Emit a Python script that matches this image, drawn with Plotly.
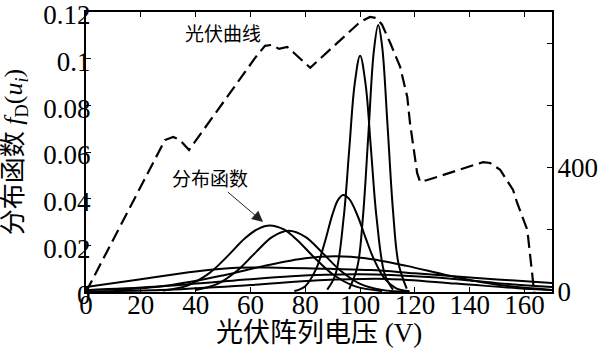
import plotly.graph_objects as go

# ---- PV array power curve (right axis, W) ----
pv_volt = [0, 28.8, 31.8, 34.3, 37.6, 53.3, 61.7, 65.3, 67.9, 70.4, 73.4, 75.5, 81.8,
           100.0, 103.6, 105.8, 108.0, 111.0, 114.6, 117.2, 118.2, 120.8, 121.9,
           124.5, 144.9, 147.4, 151.1, 155.8, 157.3, 161.0, 163.1, 163.5]
pv_power = [0, 490, 500, 490, 458, 652, 755, 794, 797, 784, 790, 774, 723,
            871, 887, 884, 862, 803, 726, 629, 545, 384, 355,
            361, 419, 416, 394, 329, 287, 200, 39, 0]

# ---- distribution functions f_D(u_i) (left axis) ----
dist_a_v = [96, 99, 101, 103, 105, 106.6, 108, 110, 112, 114, 117]
dist_a_f = [0.0012, 0.0108, 0.0318, 0.0674, 0.1031, 0.1144, 0.1056, 0.0714, 0.0348, 0.0122, 0.0014]

dist_b_v = [88, 91, 94, 96, 98, 100, 102, 104, 106, 109, 112]
dist_b_f = [0.0010, 0.0075, 0.0319, 0.0606, 0.0890, 0.1012, 0.0890, 0.0606, 0.0319, 0.0075, 0.0010]

dist_c_v = [76, 80, 84, 87, 90, 92, 93.8, 96, 99, 102, 105, 109, 113, 118]
dist_c_f = [0.0004, 0.0025, 0.0100, 0.0209, 0.0336, 0.0396, 0.0416, 0.0399, 0.0329, 0.0232,
            0.0141, 0.0056, 0.0017, 0.0003]

dist_d_v = [28, 37, 45, 52, 58, 63, 67, 72, 77, 83, 90, 98, 108]
dist_d_f = [0.0006, 0.0028, 0.0081, 0.0158, 0.0230, 0.0272, 0.0285, 0.0269, 0.0223, 0.0151,
            0.0076, 0.0025, 0.0004]

dist_e_v = [40, 48, 55, 62, 68, 74, 80, 86, 93, 100, 108, 118]
dist_e_f = [0.0009, 0.0035, 0.0090, 0.0171, 0.0236, 0.0262, 0.0236, 0.0171, 0.0090, 0.0035,
            0.0009, 0.0001]

dist_f_v = [10, 30, 50, 65, 80, 91, 102, 117, 132, 150, 170]
dist_f_f = [0.0008, 0.0028, 0.0071, 0.0112, 0.0145, 0.0153, 0.0145, 0.0112, 0.0071, 0.0031, 0.0009]

dist_g_v = [0, 20, 40, 55, 70, 90, 104, 120, 140, 155, 170]
dist_g_f = [0.0021, 0.0055, 0.0088, 0.0104, 0.0104, 0.0099, 0.0094, 0.0080, 0.0062, 0.0050, 0.0039]

dist_h_v = [0, 25, 50, 75, 100, 125, 150, 170]
dist_h_f = [0.0008, 0.0022, 0.0045, 0.0068, 0.0076, 0.0064, 0.0038, 0.0021]

dist_i_v = [0, 30, 60, 85, 110, 135, 160, 170]
dist_i_f = [0.0003, 0.0010, 0.0030, 0.0050, 0.0056, 0.0036, 0.0014, 0.0009]

distributions = [
    (dist_a_v, dist_a_f), (dist_b_v, dist_b_f), (dist_c_v, dist_c_f),
    (dist_d_v, dist_d_f), (dist_e_v, dist_e_f), (dist_f_v, dist_f_f),
    (dist_g_v, dist_g_f), (dist_h_v, dist_h_f), (dist_i_v, dist_i_f),
]

x_ticks = [0, 20, 40, 60, 80, 100, 120, 140, 160]
y_ticks = [0, 0.02, 0.04, 0.06, 0.08, 0.10, 0.12]
y_labels = ["0", "0.02", "0.04", "0.06", "0.08", "0.1", "0.12"]
y2_ticks = [0, 400]

serif = '"Liberation Serif", "Times New Roman", serif'
mixed = '"Liberation Serif", "Noto Sans CJK SC", serif'
cjk = '"Noto Sans CJK SC", sans-serif'

fig = go.Figure()

for v, f in distributions:
    fig.add_trace(go.Scatter(
        x=v, y=f, mode="lines", yaxis="y",
        line=dict(color="black", width=2, shape="spline", smoothing=1.0),
        showlegend=False, hoverinfo="skip",
    ))

fig.add_trace(go.Scatter(
    x=pv_volt, y=pv_power, mode="lines", yaxis="y2",
    line=dict(color="black", width=2.2, dash="13px,6px"),
    showlegend=False, hoverinfo="skip",
))

axis_common = dict(
    ticks="inside", ticklen=5, tickwidth=1.2, tickcolor="black",
    showline=True, linecolor="black", linewidth=2,
    showgrid=False, zeroline=False, automargin=False,
    ticklabeloverflow="allow",
    tickfont=dict(family=serif, size=27, color="black"),
)

fig.update_layout(
    width=600, height=350, autosize=False,
    margin=dict(l=86, r=48, t=12, b=58),
    paper_bgcolor="white", plot_bgcolor="white",
    xaxis=dict(range=[0, 170], tickvals=x_ticks, mirror="ticks",
               ticklabelstandoff=-12, **axis_common),
    yaxis=dict(range=[0, 0.12], tickvals=y_ticks, ticktext=y_labels,
               ticklabelstandoff=-12, ticklabelshift=3, **axis_common),
    yaxis2=dict(overlaying="y", side="right", range=[0, 903], tickvals=y2_ticks,
                minor=dict(dtick=200, ticks="inside", ticklen=5, tickwidth=1.2,
                           tickcolor="black"),
                ticklabelstandoff=-2, **axis_common),
    annotations=[
        # axis titles
        dict(x=0.5, y=-0.146, xref="paper", yref="paper", text="光伏阵列电压 (V)",
             showarrow=False, xanchor="center", yanchor="middle",
             font=dict(family=mixed, size=27, color="black")),
        dict(x=-0.152, y=0.5, xref="paper", yref="paper", textangle=-90,
             text="分布函数 <i>f</i><sub>D</sub>(<i>u</i><sub><i>i</i></sub>)",
             showarrow=False, xanchor="center", yanchor="middle",
             font=dict(family=mixed, size=26, color="black")),
        # in-plot labels
        dict(x=50, y=0.1114, xref="x", yref="y", text="光伏曲线", showarrow=False,
             font=dict(family=cjk, size=19, color="black")),
        dict(x=64.6, y=0.030, xref="x", yref="y", text="分布函数", showarrow=True,
             ax=-53, ay=-45, arrowhead=2, arrowsize=2.2, arrowwidth=1,
             arrowcolor="#222", font=dict(family=cjk, size=19, color="black")),
    ],
)

fig.write_html("out.html")
